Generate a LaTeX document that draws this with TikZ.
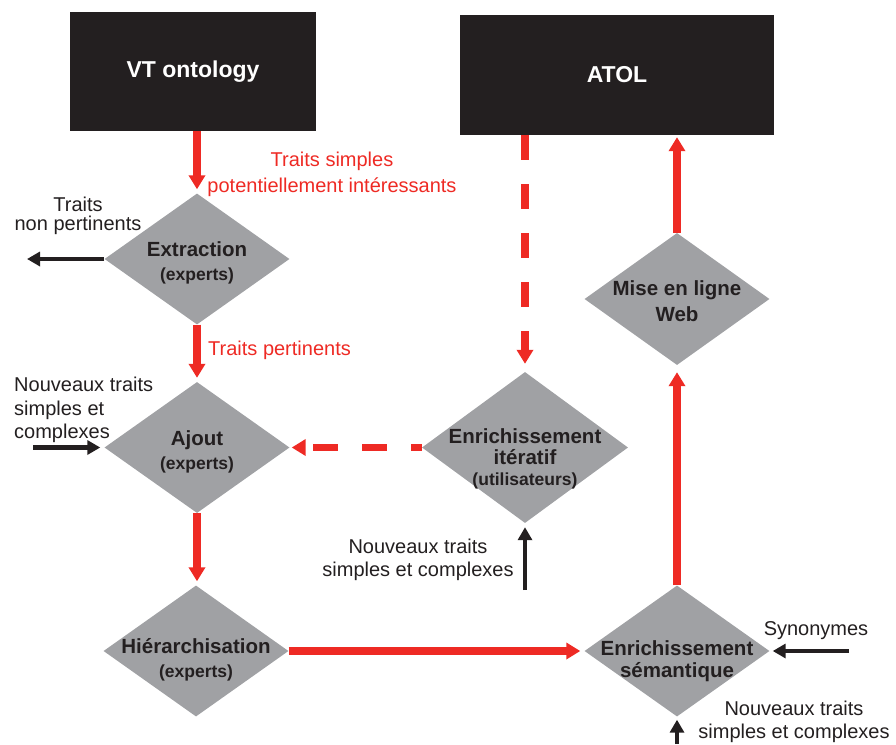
\documentclass[tikz,border=0pt]{standalone}
\usepackage{fontspec}
\setmainfont{Liberation Sans}
\usepackage{tikz}
\usetikzlibrary{shapes.geometric,arrows.meta}
\definecolor{atolred}{HTML}{EE2A24}
\definecolor{atolgray}{HTML}{A0A1A4}
\definecolor{atolblack}{HTML}{231F20}
\newcommand{\phasesub}[1]{{\fontsize{17.5}{20}\selectfont #1}}

\begin{document}
\begin{tikzpicture}[x=1pt,y=-1pt,line join=bevel,
  box/.style={fill=atolblack,draw=none,text=white,inner sep=0pt,font=\fontsize{23}{26}\selectfont\bfseries},
  phase/.style={diamond,fill=atolgray,draw=none,inner sep=0pt,minimum width=185pt,minimum height=131pt},
  phasetext/.style={align=center,inner sep=0pt,text=atolblack,font=\fontsize{20.5}{24}\selectfont\bfseries},
  lbl/.style={inner sep=0pt,text=atolblack,font=\fontsize{20}{23.5}\selectfont},
  redlbl/.style={lbl,text=atolred},
  flow/.style={atolred,line width=7.5pt,-{Triangle[width=16pt,length=14pt]},shorten >=4pt},
  feedback/.style={flow,dash pattern=on 25pt off 24pt},
  input/.style={atolblack,line width=4.5pt,-{Triangle[width=14pt,length=13pt]},shorten >=3pt},
]
  \useasboundingbox (0,0) rectangle (896,744);

  \node (node_vt) at (193,71.5) [box,minimum width=246pt,minimum height=119pt] {VT ontology};
  \node (node_atol) at (617,75) [box,minimum width=314pt,minimum height=120pt] {ATOL};

  \node (node_extraction) at (197,259) [phase] {};
  \node (node_extraction_t) at ([yshift=-4pt]node_extraction.center) [phasetext] {Extraction\\\phasesub{(experts)}};
  \node (node_ajout) at (197,447.5) [phase] {};
  \node (node_ajout_t) at ([yshift=-4pt]node_ajout.center) [phasetext] {Ajout\\\phasesub{(experts)}};
  \node (node_hier) at (196,651) [phase] {};
  \node (node_hier_t) at ([yshift=-9pt]node_hier.center) [phasetext] {Hiérarchisation\\\phasesub{(experts)}};
  \node (node_iteratif) at (525,447.5) [phase,minimum width=206pt,minimum height=151pt] {};
  \node (node_iteratif_t) at ([yshift=-11pt]node_iteratif.center) [phasetext,font=\fontsize{20.5}{21}\selectfont\bfseries] {Enrichissement\\itératif\\\phasesub{(utilisateurs)}};
  \node (node_semantique) at (677,651) [phase] {};
  \node (node_semantique_t) at ([yshift=-10pt]node_semantique.center) [phasetext,font=\fontsize{20.5}{22.5}\selectfont\bfseries] {Enrichissement\\sémantique};
  \node (node_mise) at (677,299) [phase,minimum height=132pt] {};
  \node (node_mise_t) at ([yshift=-2pt]node_mise.center) [phasetext,font=\fontsize{20.5}{26}\selectfont\bfseries] {Mise en ligne\\Web};

  % labels
  \node (lbl_potentiels) at (332,174) [redlbl,align=center,font=\fontsize{20}{26}\selectfont] {Traits simples\\potentiellement intéressants};
  \node (lbl_pertinents) at (208,350) [redlbl,anchor=west] {Traits pertinents};
  \node (lbl_rejetes) at (78,216) [lbl,align=center,font=\fontsize{20}{19.5}\selectfont] {Traits\\non pertinents};
  \node (lbl_ajout) at (14,410) [lbl,anchor=west,align=left] {Nouveaux traits\\simples et\\complexes};
  \node (lbl_iteratif) at (418,560) [lbl,align=center,font=\fontsize{20}{23}\selectfont] {Nouveaux traits\\simples et complexes};
  \node (lbl_synonymes) at (816,631) [lbl] {Synonymes};
  \node (lbl_semantique) at (794,722) [lbl,align=center,font=\fontsize{20}{23}\selectfont] {Nouveaux traits\\simples et complexes};

  \coordinate (out_extraction) at (27,259);
  \coordinate (in_ajout) at (33,447.5);
  \coordinate (in_iteratif) at (525,590);
  \coordinate (in_synonymes) at (849,651);
  \coordinate (in_semantique) at (677,744);

  \draw [flow] (node_vt.south -| node_extraction.north) -- (node_extraction.north);
  \draw [flow] (node_extraction.south) -- (node_ajout.north);
  \draw [flow] (node_ajout.south) -- (node_ajout.south |- node_hier.north);
  \draw [flow] (node_hier.east) -- (node_semantique.west);
  \draw [flow,shorten >=7pt] (node_semantique.north) -- (node_mise.south);
  \draw [flow,shorten >=2pt] (node_mise.north) -- (node_mise.north |- node_atol.south);
  \draw [feedback,shorten >=8pt] (node_atol.south -| node_iteratif.north) -- (node_iteratif.north);
  \draw [feedback,dash phase=14pt,shorten >=2pt] (node_iteratif.west) -- (node_ajout.east);

  \draw [input,shorten >=0pt] (node_extraction.west) -- (out_extraction);
  \draw [input,shorten >=4pt] (in_ajout) -- (node_ajout.west);
  \draw [input,shorten >=4pt] (in_iteratif) -- (node_iteratif.south);
  \draw [input] (in_synonymes) -- (node_semantique.east);
  \draw [input] (in_semantique) -- (node_semantique.south);
%
\end{tikzpicture}
\end{document}
